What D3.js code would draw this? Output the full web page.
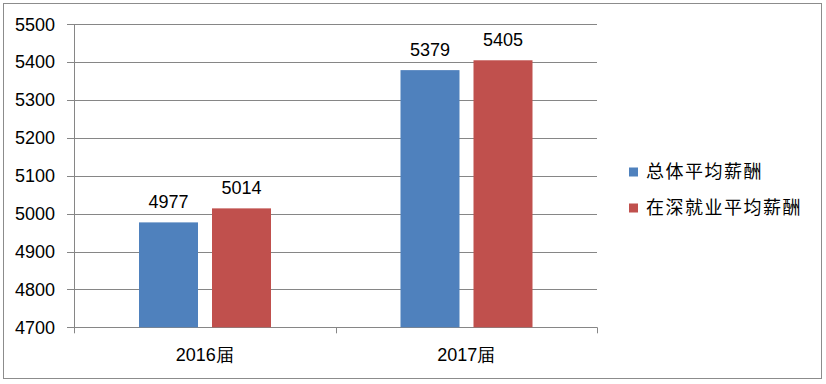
<!DOCTYPE html>
<html><head><meta charset="utf-8">
<script src="https://cdn.jsdelivr.net/npm/d3@7"></script>
<style>body{margin:0;background:#fff}</style>
</head><body>
<svg id="c" width="826" height="384"></svg>
<script>
const categories = ["2016届", "2017届"];
const seriesNames = ["总体平均薪酬", "在深就业平均薪酬"];
const totalPay = [4977, 5379];
const shenzhenPay = [5014, 5405];
const yTicks = [4700, 4800, 4900, 5000, 5100, 5200, 5300, 5400, 5500];
const colors = ["#4F81BD", "#C0504D"];

(function () {
const svg = d3.select("#c");
const pL = 74, pR = 597, pT = 24.3, pB = 327.3;
const numFont = "'Liberation Sans', Arial, sans-serif";
const cjkFont = "'Noto Sans CJK SC', sans-serif";

svg.append("rect").attr("x", 3.5).attr("y", 3.5).attr("width", 818).attr("height", 375)
  .attr("fill", "#fff").attr("stroke", "#8c8c8c").attr("stroke-width", 1);

const y = d3.scaleLinear().domain([4700, 5500]).range([pB, pT]);
const x0 = d3.scaleBand().domain(categories).range([pL, pR]).paddingInner(0).paddingOuter(0);
const series = [totalPay, shenzhenPay];

// gridlines
svg.append("g").selectAll("line").data(yTicks).join("line")
  .attr("x1", pL - 7).attr("x2", pR)
  .attr("y1", d => Math.round(y(d)) + 0.5).attr("y2", d => Math.round(y(d)) + 0.5)
  .attr("stroke", "#868686").attr("stroke-width", 1);

// y axis line
svg.append("line").attr("x1", pL + 0.5).attr("x2", pL + 0.5).attr("y1", pT).attr("y2", pB)
  .attr("stroke", "#868686");

// y labels
svg.append("g").selectAll("text").data(yTicks).join("text")
  .attr("x", 55).attr("y", d => y(d)).attr("dy", "0.35em").attr("text-anchor", "end")
  .attr("font-family", numFont).attr("font-size", 18).attr("fill", "#000").text(d => d);

// category ticks
const catTicks = [pL, pL + x0.bandwidth(), pR];
svg.append("g").selectAll("line").data(catTicks).join("line")
  .attr("x1", d => Math.round(d) + 0.5).attr("x2", d => Math.round(d) + 0.5)
  .attr("y1", pB).attr("y2", pB + 6).attr("stroke", "#868686");

// bars
const groupPad = 65, barW = 59, gap = 14;
categories.forEach((c, i) => {
  series.forEach((s, j) => {
    const bx = x0(c) + groupPad + j * (barW + gap);
    svg.append("rect").attr("x", bx).attr("y", y(s[i])).attr("width", barW)
      .attr("height", y(4700) - y(s[i])).attr("fill", colors[j]);
    svg.append("text").attr("x", bx + barW / 2).attr("y", y(s[i]) - 14.5)
      .attr("text-anchor", "middle").attr("font-family", numFont).attr("font-size", 18)
      .attr("fill", "#000").text(s[i]);
  });
  svg.append("text").attr("x", x0(c) + x0.bandwidth() / 2).attr("y", 361)
    .attr("text-anchor", "middle").attr("font-family", numFont).attr("font-size", 18)
    .attr("fill", "#000").text(c);
});

// legend
seriesNames.forEach((n, j) => {
  const ly = 172 + j * 36;
  svg.append("rect").attr("x", 629).attr("y", ly - 4.5).attr("width", 9).attr("height", 9).attr("fill", colors[j]);
  svg.append("text").attr("x", 646).attr("y", ly).attr("dy", "0.36em")
    .attr("font-family", cjkFont).attr("font-size", 18).attr("letter-spacing", 1.5)
    .attr("fill", "#000").text(n);
});
})();
</script>
</body></html>
